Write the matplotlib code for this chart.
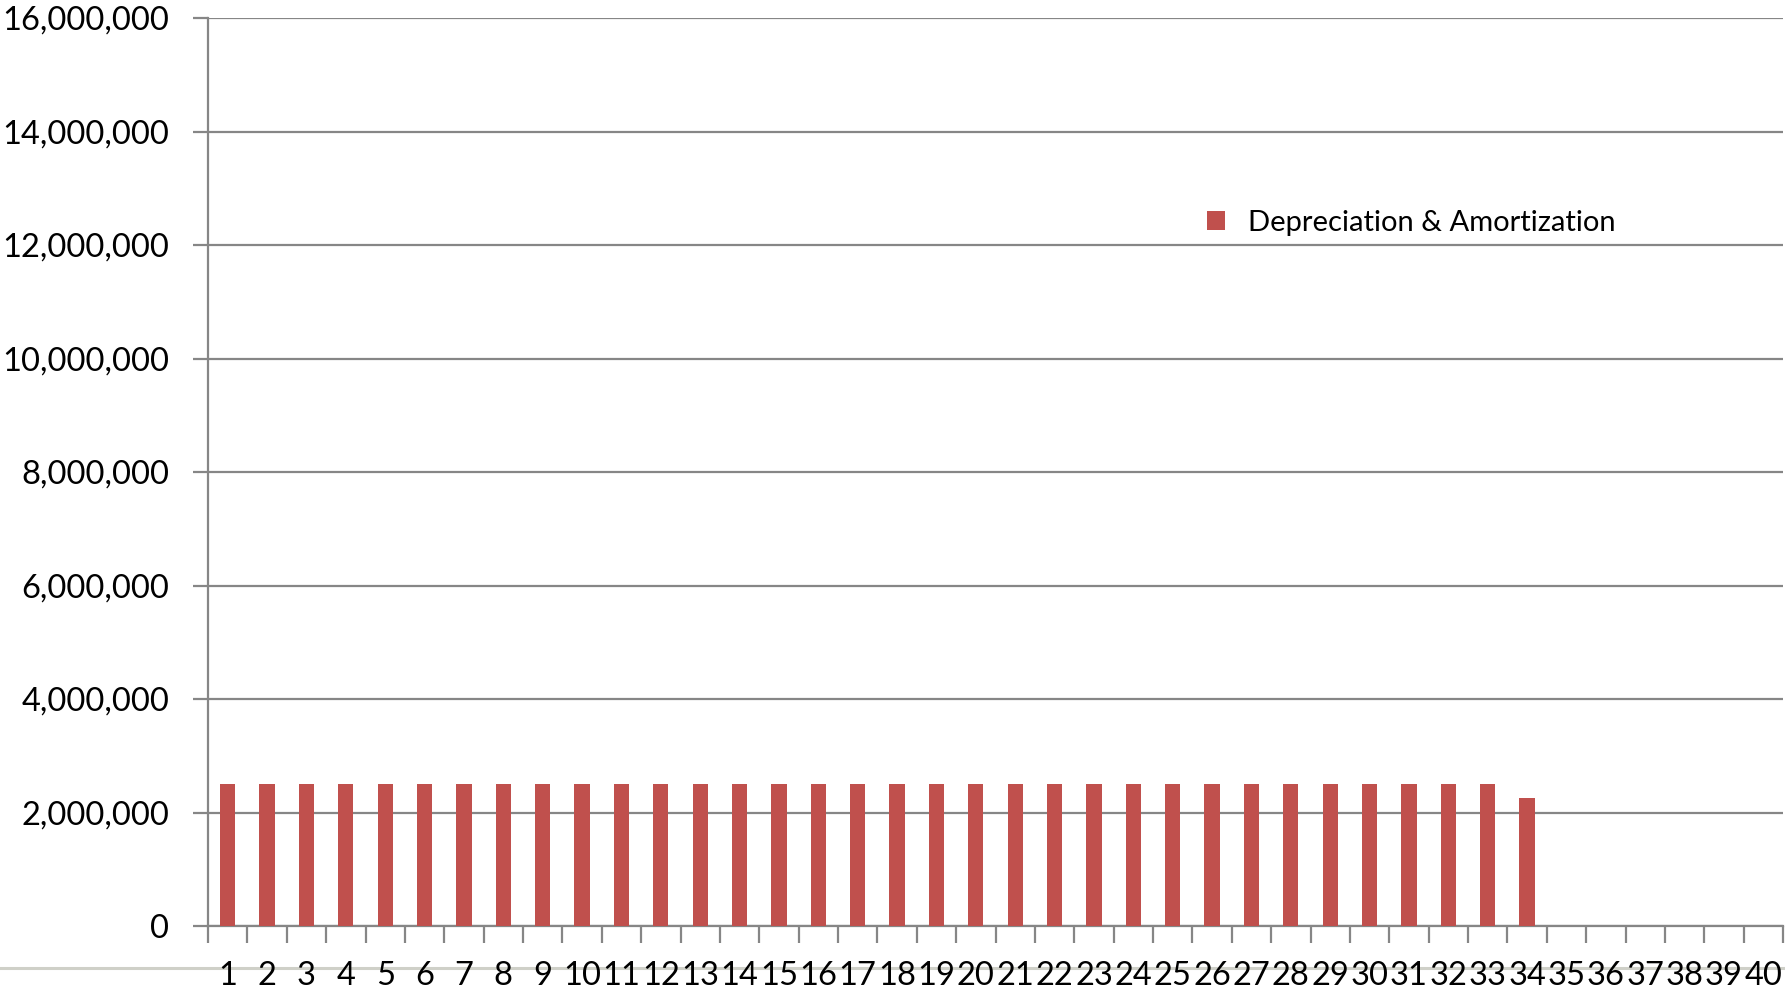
import matplotlib
matplotlib.use("Agg")
import matplotlib.pyplot as plt
from matplotlib.patches import Patch
from matplotlib.ticker import FuncFormatter, FixedLocator
from matplotlib.lines import Line2D

# Annual depreciation & amortization schedule
periods = list(range(1, 41))
dep_amort = [2500000] * 33 + [2250000] + [0] * 6
series_name = "Depreciation & Amortization"
y_ticks = list(range(0, 16000001, 2000000))

bar_color = "#C0504D"
grid_color = "#868686"
font = ["Lato", "DejaVu Sans"]
tick_fs = 23.5
legend_fs = 21

plt.rcParams["font.family"] = font

fig = plt.figure(figsize=(17.85, 9.9), dpi=100)
ax = fig.add_axes([208 / 1785, 1 - 926 / 990, (1783 - 208) / 1785, (926 - 18) / 990])

x = list(range(len(periods)))
ax.bar(x, dep_amort, width=0.39, color=bar_color, zorder=3)

ax.set_xlim(-0.5, len(periods) - 0.5)
ax.set_ylim(0, 16000000)

ax.set_yticks(y_ticks)
ax.yaxis.set_major_formatter(FuncFormatter(lambda v, p: f"{int(v):,}"))
ax.yaxis.grid(True, color=grid_color, linewidth=1.6, zorder=0)
ax.tick_params(axis="y", length=11, width=1.6, color=grid_color, pad=17,
               labelsize=tick_fs, labelcolor="black")

ax.set_xticks(x)
ax.set_xticklabels([str(p) for p in periods])
ax.tick_params(axis="x", which="major", length=0, pad=25, labelsize=tick_fs, labelcolor="black")
ax.xaxis.set_minor_locator(FixedLocator([i - 0.5 for i in range(len(periods) + 1)]))
ax.tick_params(axis="x", which="minor", length=12, width=1.6, color=grid_color)

for side in ["top", "right"]:
    ax.spines[side].set_visible(False)
for side in ["left", "bottom"]:
    ax.spines[side].set_color(grid_color)
    ax.spines[side].set_linewidth(1.6)

handle = Patch(facecolor=bar_color, edgecolor="none")
ax.legend([handle], [series_name], loc="center left",
          bbox_to_anchor=((1207 - 208) / (1783 - 208), (926 - 223) / (926 - 18)),
          frameon=False, fontsize=legend_fs, handlelength=0.62, handleheight=0.62,
          handletextpad=0.8, borderaxespad=0, borderpad=0)

# thin rule along the bottom of the page
fig.add_artist(Line2D([0, 1], [1 - 968 / 990, 1 - 968 / 990], transform=fig.transFigure,
                      color="#cfd0c8", linewidth=2.2, zorder=0))

fig.savefig("out.png", dpi=100, facecolor="white")
